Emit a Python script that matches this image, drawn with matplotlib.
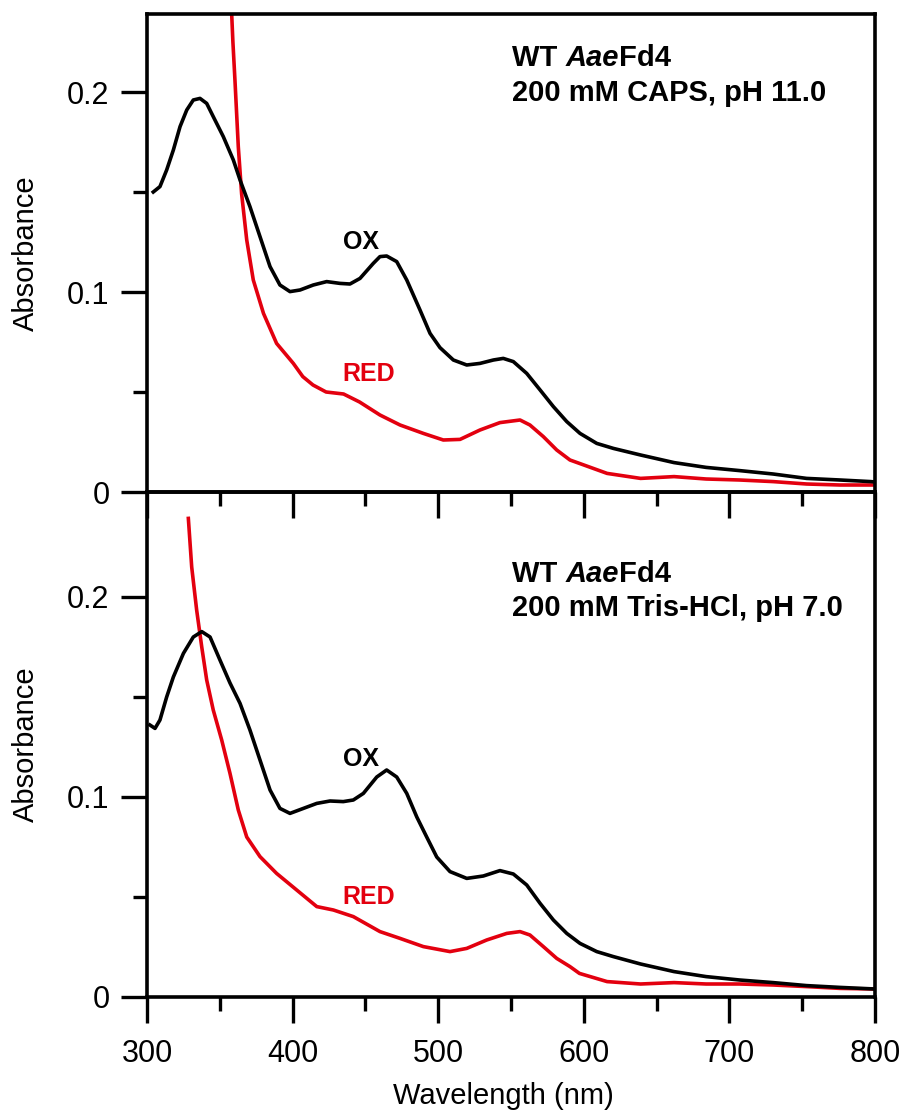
import matplotlib
matplotlib.use("Agg")
import matplotlib.pyplot as plt
from matplotlib.ticker import FixedLocator, FuncFormatter

plt.rcParams['font.family'] = ['Liberation Sans', 'DejaVu Sans']

# ---------------- data ----------------
# Top panel: 200 mM CAPS, pH 11.0
wl_top_ox = [304.3, 308.9, 313.5, 318.1, 322.7, 327.3, 331.8, 336.4, 341, 345.5, 352.4,
             359.3, 363.9, 370.7, 377.6, 384.5, 391.3, 398.2, 405.1, 414.2, 423.4,
             432.6, 439.4, 446.3, 455.4, 460, 464.6, 471.5, 478.4, 487.5, 494.4,
             501.2, 510.4, 519.6, 528.7, 537.9, 544.7, 551.6, 560.8, 570, 579.1,
             588.3, 597.4, 608.9, 620.3, 639, 662, 684, 707, 730, 753, 776, 797, 800]
abs_top_ox = [0.150, 0.1527, 0.161, 0.171, 0.1827, 0.191, 0.196, 0.1968, 0.1943,
              0.1877, 0.1777, 0.166, 0.156, 0.1427, 0.1277, 0.1127, 0.1035, 0.1002,
              0.101, 0.1035, 0.1052, 0.1043, 0.104, 0.1068, 0.1143, 0.1177, 0.118,
              0.1152, 0.106, 0.091, 0.0793, 0.0722, 0.066, 0.0635, 0.0643, 0.066,
              0.0668, 0.0652, 0.0593, 0.051, 0.0427, 0.0352, 0.0293, 0.0243, 0.0218,
              0.0185, 0.0147, 0.0123, 0.0107, 0.009, 0.0068, 0.006, 0.0052, 0.005]
wl_top_red = [357.8, 359, 360.4, 362.7, 365, 368.5, 373, 380, 389, 400.5, 407, 414,
              423, 435, 446, 460, 473.8, 489.8, 503.5, 515, 528.7, 542.4, 556.2, 563,
              572.2, 581.4, 590.5, 597, 616, 639, 662, 684, 707, 730, 753, 776, 800]
abs_top_red = [0.245, 0.225, 0.206, 0.1727, 0.149, 0.126, 0.106, 0.0893, 0.0743,
               0.0643, 0.0577, 0.0535, 0.050, 0.049, 0.045, 0.0385, 0.0335, 0.0293,
               0.026, 0.0263, 0.031, 0.0347, 0.036, 0.0335, 0.0277, 0.021, 0.016,
               0.0143, 0.0093, 0.0068, 0.0077, 0.0065, 0.006, 0.0052, 0.004, 0.0035,
               0.0035]

# Bottom panel: 200 mM Tris-HCl, pH 7.0
wl_bot_ox = [302, 305.5, 308.9, 313.5, 318.1, 325, 331.8, 337.6, 343.3, 350.1, 357,
             363.9, 370.7, 377.6, 384.5, 391.3, 398.2, 407.4, 416.6, 425.7, 434.8,
             441.7, 448.6, 457.8, 464.6, 471.5, 478.4, 485.3, 492.1, 499, 508.1,
             519.6, 531, 542.4, 551.6, 560.8, 570, 579.1, 588.3, 597.4, 608.9, 620.3,
             639, 662, 684, 707, 730, 753, 776, 800]
abs_bot_ox = [0.136, 0.1343, 0.1385, 0.150, 0.160, 0.1718, 0.180, 0.1827, 0.180,
              0.1685, 0.157, 0.1468, 0.1335, 0.1185, 0.1035, 0.0943, 0.0918, 0.0943,
              0.0968, 0.098, 0.0977, 0.0985, 0.1018, 0.110, 0.1135, 0.110, 0.1018,
              0.090, 0.080, 0.070, 0.0627, 0.0593, 0.0605, 0.0632, 0.0615, 0.056,
              0.0468, 0.0385, 0.0318, 0.0268, 0.0227, 0.0202, 0.0165, 0.0127, 0.0102,
              0.0085, 0.0072, 0.0057, 0.0048, 0.004]
wl_bot_red = [328.4, 330.7, 334.1, 337.6, 341, 345.5, 351.3, 357, 362.7, 368.5, 377.6,
              389, 402.8, 416.6, 428, 441.7, 460, 473.8, 489.8, 508.1, 519.6, 533.3,
              547.1, 556.2, 563, 572.2, 581.4, 590.5, 597, 616, 639, 662, 684, 707,
              730, 753, 776, 800]
abs_bot_red = [0.2393, 0.215, 0.1935, 0.175, 0.1585, 0.1435, 0.1285, 0.1118, 0.0935,
               0.080, 0.0702, 0.0618, 0.0535, 0.0452, 0.0435, 0.0402, 0.0327, 0.0293,
               0.0252, 0.0227, 0.0243, 0.0285, 0.0318, 0.0327, 0.031, 0.0252, 0.0193,
               0.0152, 0.0118, 0.0077, 0.0065, 0.0072, 0.0065, 0.0065, 0.006, 0.0052,
               0.0043, 0.004]

x_major = [300, 400, 500, 600, 700, 800]
x_minor = [350, 450, 550, 650, 750]
y_major = [0, 0.1, 0.2]
y_minor = [0.05, 0.15]
y_labels = ["0", "0.1", "0.2"]

buffers = ["200 mM CAPS, pH 11.0", "200 mM Tris-HCl, pH 7.0"]

RED = '#e3000f'
W, H = 905, 1120

fig = plt.figure(figsize=(W / 100, H / 100), dpi=100)
left = 147 / W
width = 728 / W
ax_bot = fig.add_axes([left, 1 - 997 / H, width, 505 / H])
ax_top = fig.add_axes([left, 1 - 492 / H, width, 478 / H])
ax_top.set_zorder(3)
ax_top.patch.set_visible(False)

LW_SP = 2.6
for ax, ymax in [(ax_top, 0.239), (ax_bot, 0.2525)]:
    ax.set_xlim(300, 800)
    ax.set_ylim(0, ymax)
    for s in ax.spines.values():
        s.set_linewidth(LW_SP)
    ax.xaxis.set_major_locator(FixedLocator(x_major))
    ax.xaxis.set_minor_locator(FixedLocator(x_minor))
    ax.yaxis.set_major_locator(FixedLocator(y_major))
    ax.yaxis.set_minor_locator(FixedLocator(y_minor))
    ax.yaxis.set_major_formatter(FuncFormatter(
        lambda v, p: y_labels[y_major.index(round(v, 2))] if round(v, 2) in y_major else ""))
    ax.tick_params(axis='both', which='major', direction='out', length=19, width=2.4,
                   labelsize=22)
    ax.tick_params(axis='both', which='minor', direction='out', length=10, width=2.4)
    ax.tick_params(axis='y', which='major', pad=8)
    ax.tick_params(axis='x', which='major', pad=11)
    ax.tick_params(top=False, right=False, which='both')
    ax.set_ylabel("Absorbance", fontsize=21)
    ax.yaxis.set_label_coords(-0.147, 0.5)

ax_top.tick_params(axis='x', labelbottom=False)

LW = 2.6
ax_top.plot(wl_top_ox, abs_top_ox, color='black', lw=LW, zorder=3, solid_joinstyle='round')
ax_top.plot(wl_top_red, abs_top_red, color=RED, lw=LW, zorder=2, solid_joinstyle='round')
ax_bot.plot(wl_bot_ox, abs_bot_ox, color='black', lw=LW, zorder=3, solid_joinstyle='round')
ax_bot.plot(wl_bot_red, abs_bot_red, color=RED, lw=LW, zorder=2, solid_joinstyle='round')

ax_bot.set_xlabel("Wavelength (nm)", fontsize=21)
ax_bot.xaxis.set_label_coords(0.49, -0.168)

# OX / RED labels
ax_top.text(447, 0.125, "OX", fontsize=18, fontweight='bold', ha='center', va='center')
ax_top.text(452, 0.059, "RED", fontsize=18, fontweight='bold', color=RED, ha='center', va='center')
ax_bot.text(447, 0.119, "OX", fontsize=18, fontweight='bold', ha='center', va='center')
ax_bot.text(452, 0.050, "RED", fontsize=18, fontweight='bold', color=RED, ha='center', va='center')

# sample annotations
renderer = fig.canvas.get_renderer()


def mixed_line(x_px, y_px, parts, size=21):
    x = x_px
    for txt, style in parts:
        t = fig.text(x / W, 1 - y_px / H, txt, fontsize=size, fontweight='bold',
                     fontstyle=style, ha='left', va='center_baseline')
        bb = t.get_window_extent(renderer=renderer)
        x = bb.x1


for (y1, y2), buf in zip([(55, 90), (571, 605)], buffers):
    mixed_line(512, y1, [("WT ", 'normal'), ("Aae", 'italic'), ("Fd4", 'normal')])
    fig.text(512 / W, 1 - y2 / H, buf, fontsize=21, fontweight='bold',
             ha='left', va='center_baseline')

fig.savefig("out.png", dpi=100)
